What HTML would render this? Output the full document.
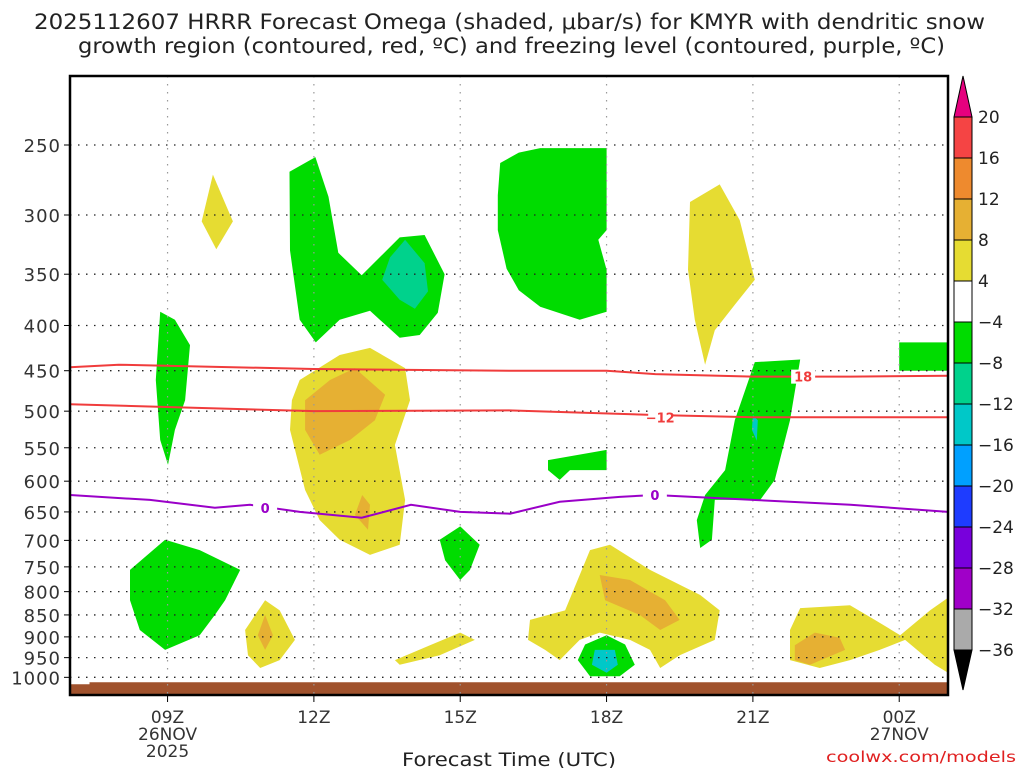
<!DOCTYPE html>
<html><head><meta charset="utf-8"><style>
body{margin:0;background:#fff;width:1024px;height:768px;overflow:hidden;font-family:"Liberation Sans","DejaVu Sans",sans-serif}
svg text{font-family:"DejaVu Sans","Liberation Sans",sans-serif}
</style></head><body>
<svg id="chart" width="1024" height="768" xmlns="http://www.w3.org/2000/svg">
<text x="34" y="29" textLength="951" lengthAdjust="spacingAndGlyphs" font-size="21" fill="#222">2025112607 HRRR Forecast Omega (shaded, μbar/s) for KMYR with dendritic snow</text>
<text x="78" y="53" textLength="867" lengthAdjust="spacingAndGlyphs" font-size="21" fill="#222">growth region (contoured, red, ºC) and freezing level (contoured, purple, ºC)</text>
<g id="plot"></g>
<g id="cbar"></g>
<text x="402" y="766" textLength="214" lengthAdjust="spacingAndGlyphs" font-size="19" fill="#222">Forecast Time (UTC)</text>
<text x="826" y="762" textLength="190" lengthAdjust="spacingAndGlyphs" font-size="15" fill="#e02020">coolwx.com/models</text>
</svg>
<script>
const pLevels=[250,300,350,400,450,500,550,600,650,700,750,800,850,900,950,1000];
const timeTicks=[2,5,8,11,14,17];
const timeLabels=[["09Z","26NOV","2025"],["12Z"],["15Z"],["18Z"],["21Z"],["00Z","27NOV"]];
const cbLevels=["20","16","12","8","4","−4","−8","−12","−16","−20","−24","−28","−32","−36"];
const cbColors=["#f54444","#ee8a2e","#e6b033","#e6dc32","#ffffff","#00dc00","#00d28c","#00c8c8","#00a0ff","#1e3cff","#7800dc","#a000c8","#aaaaaa"];
// blobs: [color, [[hour,pressure],...]] hour 0 = 07Z
const blobs=[
["#e6dc32",[[2.93,270],[3.34,305],[3,328],[2.7,305]]],
["#00dc00",[[4.5,268],[5.03,258],[5.3,286],[5.5,331],[5.98,351],[6.76,318],[7.27,316],[7.68,350],[7.54,387],[7.17,410],[6.76,413],[6.15,385],[5.53,394],[5.04,418],[4.71,394],[4.51,329]]],
["#00d28c",[[6.87,320],[7.27,340],[7.34,366],[7.07,383],[6.76,374],[6.4,355],[6.56,335]]],
["#00dc00",[[8.82,262],[9.2,255],[9.64,252],[11,252],[11,312],[10.83,320],[11,346],[11,386],[10.45,394],[9.64,381],[9.2,365],[8.95,345],[8.77,312],[8.77,285]]],
["#e6dc32",[[12.71,290],[13.32,277],[13.73,304],[14.04,355],[13.63,379],[13.22,405],[13.02,443],[12.81,394],[12.67,346]]],
["#00dc00",[[17,418],[18,418],[18,450],[17,450]]],
["#00dc00",[[1.85,386],[2.15,394],[2.46,421],[2.36,486],[2.15,525],[2.01,575],[1.85,539],[1.76,461]]],
["#e6dc32",[[4.71,461],[5.53,432],[6.15,424],[6.87,447],[6.97,486],[6.66,546],[6.87,630],[6.76,708],[6.15,727],[5.53,699],[5.12,664],[4.82,614],[4.51,525],[4.55,486]]],
["#e6b033",[[4.82,486],[5.33,461],[5.84,447],[6.46,479],[6.25,512],[5.74,539],[5.12,560],[4.82,525]]],
["#e6b033",[[5.99,622],[6.15,638],[6.11,681],[5.84,655]]],
["#00dc00",[[14.04,440],[14.97,437],[14.76,512],[14.45,598],[14.15,630],[13.22,630],[13.16,699],[12.92,714],[12.85,664],[13.02,622],[13.43,583],[13.63,512]]],
["#00c8c8",[[14.0,505],[14.1,512],[14.08,540],[13.98,525]]],
["#00dc00",[[9.8,568],[11,553],[11,583],[10.25,583],[10.04,598],[9.8,583]]],
["#00dc00",[[7.58,699],[8,675],[8.4,708],[8.2,756],[8,776],[7.69,737]]],
["#00dc00",[[1.23,756],[1.95,699],[2.66,718],[3.49,756],[3.18,818],[2.97,850],[2.66,896],[1.95,931],[1.43,884],[1.23,818]]],
["#e6dc32",[[3.59,884],[4,818],[4.3,840],[4.61,907],[4.3,956],[3.9,976],[3.65,944]]],
["#e6b033",[[4,850],[4.16,896],[4,931],[3.85,896]]],
["#e6dc32",[[6.66,956],[7.38,920],[8,890],[8.3,907],[7.58,944],[6.76,968]]],
["#e6dc32",[[9.43,861],[10.15,840],[10.66,718],[11.07,708],[11.89,756],[12.92,807],[13.32,840],[13.22,907],[12.5,944],[12.1,976],[11.89,931],[11.48,907],[10.86,890],[10.45,907],[10.04,956],[9.74,931],[9.39,907]]],
["#e6b033",[[10.86,766],[11.48,776],[12.2,818],[12.5,861],[12.1,884],[11.68,850],[10.97,818]]],
["#00dc00",[[10.41,956],[10.56,918],[11,896],[11.38,918],[11.58,968],[11.27,997],[10.66,997]]],
["#00c8c8",[[10.76,931],[11.17,931],[11.23,968],[11,988],[10.7,968]]],
["#e6dc32",[[14.76,884],[14.97,835],[15.99,829],[16.5,861],[17.02,896],[17.63,840],[18,813],[18,988],[17.73,968],[17.12,907],[16.6,931],[15.99,956],[15.37,976],[14.76,956]]],
["#e6b033",[[14.86,920],[15.27,890],[15.78,902],[15.89,931],[15.17,968],[14.86,956]]]
];
const m18Hours=[0,1,5,9,11,12,14,16,18];
const m18P=[446,443,448,450,450,454,457,457,456];
const m12Hours=[0,5,9,12,14,18];
const m12P=[491,500,499,505,508,508];
const zeroHours=[0,1.64,2.97,3.69,4.71,5.98,6.99,8,9.02,10.04,11.27,11.99,14,16,18];
const zeroP=[622,630,643,638,650,660,638,650,653,633,625,622,630,638,650];

const X0=70,X1=948,Y0=76,Y1=695,NH=18;
const xs=h=>X0+(X1-X0)*h/NH;
const ys=p=>145+384*Math.log(p/250);
const NS="http://www.w3.org/2000/svg";
function mk(tag,attrs,parent){const e=document.createElementNS(NS,tag);for(const k in attrs)e.setAttribute(k,attrs[k]);parent.appendChild(e);return e;}
const plot=document.getElementById('plot');
const clip=mk('clipPath',{id:'pc'},mk('defs',{},plot));mk('rect',{x:X0,y:Y0,width:X1-X0,height:Y1-Y0},clip);
const inner=mk('g',{'clip-path':'url(#pc)'},plot);
blobs.forEach((b,i)=>{
 const e=mk('polygon',{points:b[1].map(q=>xs(q[0]).toFixed(1)+','+ys(q[1]).toFixed(1)).join(' '),fill:b[0]},inner);
 
 
});
const g=mk('path',{d:`M${X0},${ys(1018)} L${xs(0.4)},${ys(1018)} L${xs(0.4)},${ys(1013)} L${X1},${ys(1013)} L${X1},${Y1} L${X0},${Y1}Z`,fill:'#a0522d'},inner);


pLevels.forEach(p=>{const l=mk('line',{x1:X0,x2:X1,y1:ys(p),y2:ys(p),stroke:'#222','stroke-width':1.3,'stroke-dasharray':'1.5,6.5'},inner);
 
 });
timeTicks.forEach(h=>{const l=mk('line',{x1:xs(h),x2:xs(h),y1:Y0,y2:Y1,stroke:'#999','stroke-width':1.2,'stroke-dasharray':'1.5,6.5'},inner);
 
 });
function line(H,P,col,name){const e=mk('polyline',{points:H.map((h,i)=>xs(h)+','+ys(P[i])).join(' '),fill:'none',stroke:col,'stroke-width':2},inner);
 
 }
line(m18Hours,m18P,'#f03c3c','contour-minus18');
line(m12Hours,m12P,'#f03c3c','contour-minus12');
line(zeroHours,zeroP,'#9a00c8','freezing-level');
function lab(h,p,t,col,name){mk('rect',{x:xs(h)-12,y:ys(p)-7,width:24,height:14,fill:'#fff'},inner);
 const e=mk('text',{x:xs(h),y:ys(p)+5,'text-anchor':'middle','font-size':13,'font-weight':'bold',fill:col},inner);e.textContent=t;
 
 }
lab(15.03,457,'18','#f03c3c','label-minus18');
lab(12.1,508,'−12','#f03c3c','label-minus12');
lab(4,643,'0','#9a00c8','label-zero-a');
lab(11.99,622,'0','#9a00c8','label-zero-b');
mk('rect',{x:X0,y:Y0,width:X1-X0,height:Y1-Y0,fill:'none',stroke:'#000','stroke-width':2.5},plot);
pLevels.forEach(p=>{mk('line',{x1:X0-6,x2:X0,y1:ys(p),y2:ys(p),stroke:'#000'},plot);
 const t=mk('text',{x:X0-9,y:ys(p)+7,'text-anchor':'end','font-size':18,'letter-spacing':'1',fill:'#333'},plot);t.textContent=p;
 
 });
timeTicks.forEach((h,i)=>{mk('line',{x1:xs(h),x2:xs(h),y1:Y1,y2:Y1+7,stroke:'#000'},plot);
 timeLabels[i].forEach((s,j)=>{const t=mk('text',{x:xs(h),y:723+j*17,'text-anchor':'middle','font-size':17,fill:'#333'},plot);t.textContent=s;
 
 });});
const cb=document.getElementById('cbar');const CX=954,CW=18,CT=117,CB=650,bh=(CB-CT)/cbColors.length;
mk('polygon',{points:`${CX},${CT} ${CX+CW/2},76 ${CX+CW},${CT}`,fill:'#e6007e',stroke:'#000'},cb);
mk('polygon',{points:`${CX},${CB} ${CX+CW/2},690 ${CX+CW},${CB}`,fill:'#000',stroke:'#000'},cb);
cbColors.forEach((c,i)=>{const r=mk('rect',{x:CX,y:CT+i*bh,width:CW,height:bh,fill:c,stroke:'#000','stroke-width':1},cb);
 
 });
cbLevels.forEach((s,i)=>{const t=mk('text',{x:CX+CW+6,y:CT+i*bh+6,'font-size':17,fill:'#222'},cb);t.textContent=s;
 
 });
</script>
</body></html>
